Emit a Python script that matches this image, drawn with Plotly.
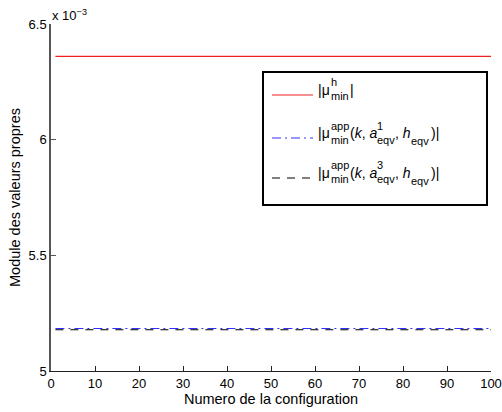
import plotly.graph_objects as go

# ---- data ----
config = list(range(1, 101))
mu_h = [6.36e-3] * 100
mu_app_a1 = [5.184e-3] * 100
mu_app_a3 = [5.178e-3] * 100

xticks = [0, 10, 20, 30, 40, 50, 60, 70, 80, 90, 100]
yticks = [5e-3, 5.5e-3, 6e-3, 6.5e-3]
yticklabels = ["5", "5.5", "6", "6.5"]

W, H = 502, 412
L, R, T, B = 51, 11, 24, 41
PW, PH = W - L - R, H - T - B

def px(x):
    return (x - L) / PW

def py(y):
    return (H - B - y) / PH

FONT = "Liberation Sans, Arial, Helvetica, sans-serif"

fig = go.Figure()
fig.add_trace(go.Scatter(x=config, y=mu_h, mode="lines",
                         line=dict(color="#ee2020", width=1.2), showlegend=False))
fig.add_trace(go.Scatter(x=config, y=mu_app_a1, mode="lines",
                         line=dict(color="#3030ff", width=1.1, dash="9px,4px,2px,4px"), showlegend=False))
fig.add_trace(go.Scatter(x=config, y=mu_app_a3, mode="lines",
                         line=dict(color="#000000", width=1.1, dash="8px,7px"), showlegend=False))

fig.update_layout(
    width=W, height=H,
    margin=dict(l=L, r=R, t=T, b=B, pad=0, autoexpand=False),
    paper_bgcolor="white", plot_bgcolor="white",
    font=dict(family=FONT, size=13, color="black"),
)
fig.update_xaxes(range=[0, 100], tickvals=xticks, ticks="inside", ticklen=5,
                 tickcolor="#222", showline=True, linecolor="#222", linewidth=1.2,
                 showgrid=False, zeroline=False, tickfont=dict(size=13), automargin=False,
                 title=dict(text="Numero de la configuration", font=dict(size=14.5), standoff=2))
fig.update_yaxes(range=[5e-3, 6.5e-3], tickvals=yticks, ticktext=yticklabels,
                 ticks="inside", ticklen=5, tickcolor="#555", showline=True,
                 linecolor="#555", linewidth=1.5, showgrid=False, zeroline=False,
                 tickfont=dict(size=13), automargin=False,
                 title=dict(text="Module des valeurs propres", font=dict(size=14.5), standoff=4))

# exponent label
annots = [dict(x=px(50), y=py(15), xref="paper", yref="paper", xanchor="left", yanchor="middle",
               text="x 10<sup>−3</sup>", showarrow=False, font=dict(size=13))]

# legend box
shapes = [dict(type="rect", xref="paper", yref="paper", x0=px(263), x1=px(487), y0=py(205), y1=py(72),
               line=dict(color="black", width=2), fillcolor="white", layer="above")]

# legend samples
for yy, col, dash in [(95, "#ee2020", "solid"), (138, "#3030ff", "9px,4px,2px,4px"), (178, "#000000", "8px,7px")]:
    shapes.append(dict(type="line", xref="paper", yref="paper", x0=px(272), x1=px(313), y0=py(yy), y1=py(yy),
                       line=dict(color=col, width=1.1, dash=dash), layer="above"))

def piece(x, y, text, size):
    return dict(x=px(x), y=py(y), xref="paper", yref="paper", xanchor="left", yanchor="middle",
                text=text, showarrow=False, font=dict(size=size), align="left", borderpad=0)

BS, SS = 14, 11
# entry 1
b = 90
annots += [piece(317, b, "|μ", BS), piece(330, b - 1, "h<br>min", SS), piece(349, b, "|", BS)]
# entries 2 & 3
for b, sup in [(133, "1"), (173, "3")]:
    annots += [
        piece(317, b, "|μ", BS),
        piece(330, b - 0.5, "app<br>min", SS),
        piece(349, b, "(<i>k</i>, <i>a</i>", BS),
        piece(376, b - 0.5, sup + "<br>eqv", SS),
        piece(394, b, ", <i>h</i>", BS),
        piece(410, b + 8, "eqv", SS),
        piece(430, b, ")|", BS),
    ]

fig.update_layout(annotations=annots, shapes=shapes)
fig.write_html("out.html", config={"displayModeBar": False},
               post_script="document.body.style.margin='0';")
